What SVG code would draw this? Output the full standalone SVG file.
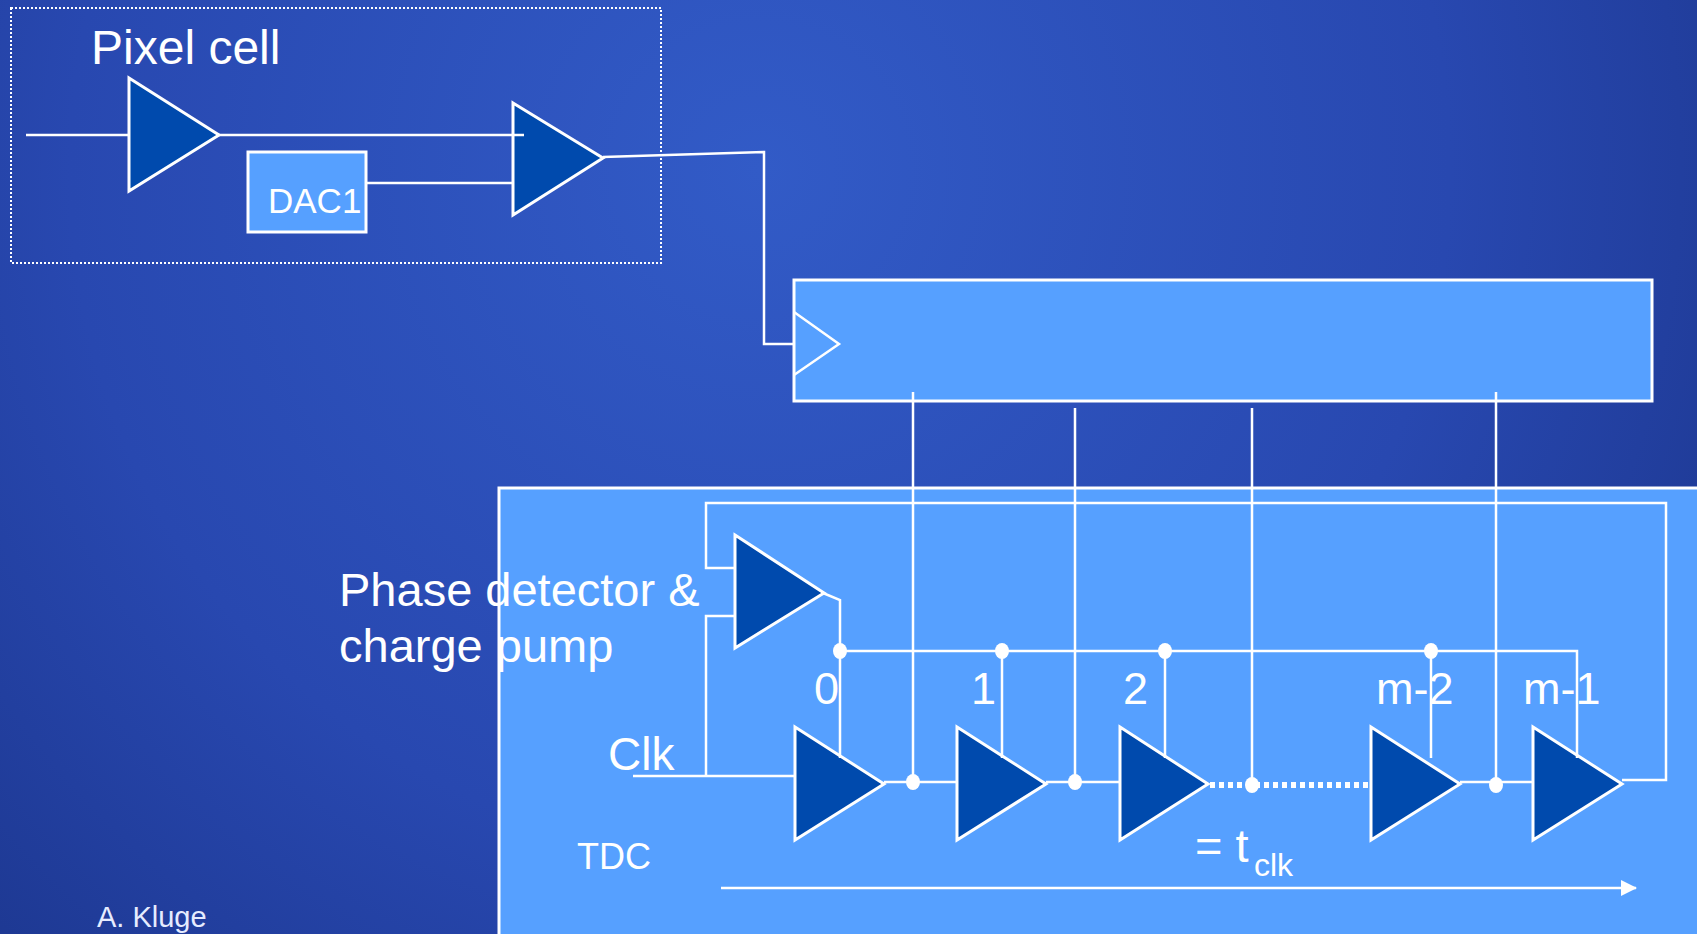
<svg xmlns="http://www.w3.org/2000/svg" width="1697" height="934" viewBox="0 0 1697 934">
<defs>
<radialGradient id="bg" gradientUnits="userSpaceOnUse" cx="760" cy="170" r="1150">
<stop offset="0" stop-color="#325bc7"/>
<stop offset="0.6" stop-color="#2848b0"/>
<stop offset="1" stop-color="#1c368e"/>
</radialGradient>
<marker id="arr" viewBox="0 0 16 16" refX="15" refY="8" markerWidth="16" markerHeight="16" markerUnits="userSpaceOnUse" orient="auto">
<path d="M0,0 L16,8 L0,16 Z" fill="#ffffff"/>
</marker>
<style>
.w{fill:none;stroke:#ffffff;stroke-width:2.5}
.tri{fill:#004aad;stroke:#ffffff;stroke-width:3;stroke-linejoin:miter}
.box{fill:#56a0ff;stroke:#ffffff;stroke-width:3}
.dot{fill:#ffffff}
.t{fill:#ffffff;font-family:"Liberation Sans",Arial,sans-serif}
</style>
</defs>
<rect x="0" y="0" width="1697" height="934" fill="url(#bg)"/>

<g id="pixel-cell">
<rect x="11" y="8" width="650" height="255" fill="none" stroke="#ffffff" stroke-width="2" stroke-dasharray="2 2"/>
<text class="t" x="91" y="64" font-size="48">Pixel cell</text>
</g>
<g id="tdc">
<rect x="499" y="488" width="1210" height="460" class="box"/>
<text class="t" x="577" y="869" font-size="36">TDC</text>
</g>
<g id="register">
<rect x="794" y="280" width="858" height="121" class="box"/>
<polyline class="w" points="794,312 839,344 794,375"/>
</g>
<g id="amp1"><polygon class="tri" points="129,78 219,135 129,191"/></g>
<g id="dac1">
<rect x="248" y="152" width="118" height="80" class="box"/>
<text class="t" x="268" y="213" font-size="35">DAC1</text>
</g>
<g id="amp2"><polygon class="tri" points="513,103 603,158 513,215"/></g>

<g id="phase-detector">
<polygon class="tri" points="735,535 824,593 735,648"/>
<text class="t" font-size="47"><tspan x="339" y="606">Phase detector &amp;</tspan><tspan x="339" y="662">charge pump</tspan></text>
</g>
<g id="clk-label"><text class="t" x="608" y="770" font-size="46">Clk</text></g>

<g id="delay0"><polygon class="tri" points="795,727 884,784 795,840"/><text class="t" x="814" y="704" font-size="45">0</text></g>
<g id="delay1"><polygon class="tri" points="957,727 1046,784 957,840"/><text class="t" x="971" y="704" font-size="45">1</text></g>
<g id="delay2"><polygon class="tri" points="1120,727 1208,784 1120,840"/><text class="t" x="1123" y="704" font-size="45">2</text></g>
<g id="delay-m2"><polygon class="tri" points="1371,727 1460,784 1371,840"/><text class="t" x="1376" y="704" font-size="45">m-2</text></g>
<g id="delay-m1"><polygon class="tri" points="1533,727 1622,784 1533,840"/><text class="t" x="1523" y="704" font-size="45">m-1</text></g>

<g id="tclk-label">
<text class="t" x="1195" y="862" font-size="47">= t</text>
<text class="t" x="1254" y="876" font-size="32">clk</text>
</g>
<g id="author"><text x="97" y="927" font-size="29" fill="#e6ecff" font-family="Liberation Sans, Arial, sans-serif">A. Kluge</text></g>

<g id="connectors">
<line class="w" x1="26" y1="135" x2="129" y2="135"/>
<line class="w" x1="219" y1="135" x2="524" y2="135"/>
<line class="w" x1="366" y1="183" x2="513" y2="183"/>
<polyline class="w" points="603,157 764,152 764,344 794,344"/>
<line class="w" x1="913" y1="392" x2="913" y2="782"/>
<line class="w" x1="1075" y1="408" x2="1075" y2="782"/>
<line class="w" x1="1252" y1="408" x2="1252" y2="785"/>
<line class="w" x1="1496" y1="392" x2="1496" y2="785"/>
<polyline class="w" points="1622,780 1666,780 1666,503 706,503 706,568 735,568"/>
<polyline class="w" points="735,616 706,616 706,776"/>
<line class="w" x1="633" y1="776" x2="795" y2="776"/>
<polyline class="w" points="823,593 840,600 840,758"/>
<polyline class="w" points="840,651 1577,651 1577,758"/>
<line class="w" x1="1002" y1="651" x2="1002" y2="758"/>
<line class="w" x1="1165" y1="651" x2="1165" y2="758"/>
<line class="w" x1="1431" y1="651" x2="1431" y2="758"/>
<line class="w" x1="884" y1="782" x2="957" y2="782"/>
<line class="w" x1="1046" y1="782" x2="1120" y2="782"/>
<line x1="1210" y1="785" x2="1371" y2="785" stroke="#ffffff" stroke-width="6" stroke-dasharray="5 4"/>
<line class="w" x1="1460" y1="782" x2="1533" y2="782"/>
<line class="w" x1="721" y1="888" x2="1636" y2="888" marker-end="url(#arr)"/>
<ellipse class="dot" cx="840" cy="651" rx="7" ry="8"/>
<ellipse class="dot" cx="1002" cy="651" rx="7" ry="8"/>
<ellipse class="dot" cx="1165" cy="651" rx="7" ry="8"/>
<ellipse class="dot" cx="1431" cy="651" rx="7" ry="8"/>
<ellipse class="dot" cx="913" cy="782" rx="7" ry="8"/>
<ellipse class="dot" cx="1075" cy="782" rx="7" ry="8"/>
<ellipse class="dot" cx="1252" cy="785" rx="7" ry="8"/>
<ellipse class="dot" cx="1496" cy="785" rx="7" ry="8"/>
</g>
</svg>
